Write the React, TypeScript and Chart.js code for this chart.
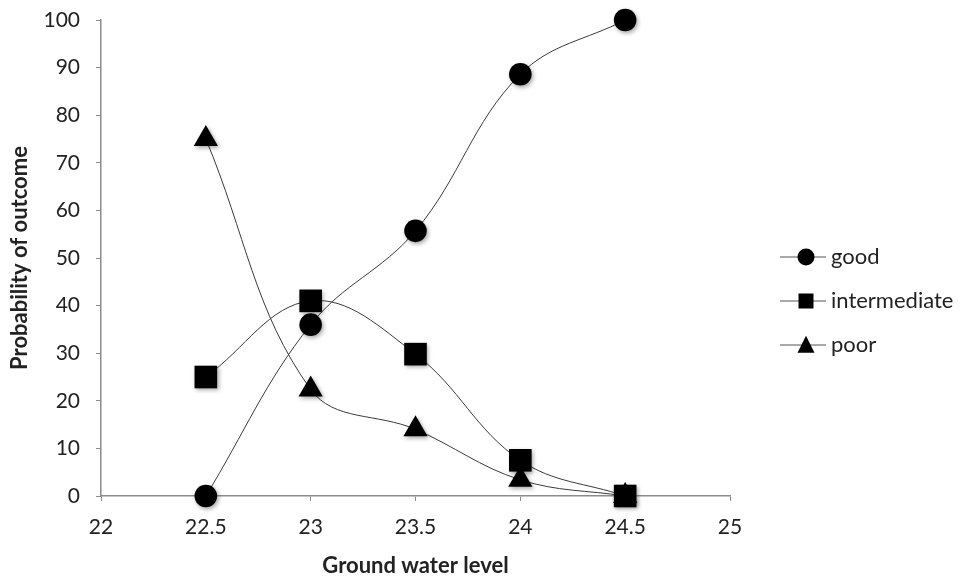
import React, { useEffect, useRef } from "react";
import { Chart, registerables } from "chart.js";

Chart.register(...registerables);

const groundWaterLevels = [22.5, 23, 23.5, 24, 24.5];
const good = [0, 36, 55.7, 88.6, 100];
const intermediate = [25, 41, 29.8, 7.5, 0];
const poor = [75, 22.4, 14, 3.4, 0];
const seriesNames = ["good", "intermediate", "poor"];
const xTickMin = 22;
const xTickMax = 25;
const yTickMax = 100;

const FONT = "Lato, 'Open Sans', sans-serif";
const LINE_COLOR = "#3a3a3a";
const AXIS_COLOR = "#8c8c8c";

function drawMarker(ctx: CanvasRenderingContext2D, style: string, x: number, y: number, s: number) {
  ctx.beginPath();
  if (style === "circle") {
    ctx.arc(x, y, s / 2, 0, Math.PI * 2);
  } else if (style === "rect") {
    ctx.rect(x - s / 2, y - s / 2, s, s);
  } else {
    ctx.moveTo(x, y - s * 0.55);
    ctx.lineTo(x + s / 2, y + s * 0.45);
    ctx.lineTo(x - s / 2, y + s * 0.45);
    ctx.closePath();
  }
  ctx.fill();
}

const legendPlugin = {
  id: "customLegend",
  afterDraw(chart: any) {
    const ctx = chart.ctx as CanvasRenderingContext2D;
    const styles = ["circle", "rect", "triangle"];
    const sizes = [17, 15, 17];
    const ys = [257, 301, 345];
    ctx.save();
    for (let i = 0; i < seriesNames.length; i++) {
      const y = ys[i];
      ctx.strokeStyle = "#555";
      ctx.lineWidth = 1;
      ctx.beginPath();
      ctx.moveTo(780, y);
      ctx.lineTo(826, y);
      ctx.stroke();
      ctx.fillStyle = "#000";
      drawMarker(ctx, styles[i], 806, y, sizes[i]);
      ctx.fillStyle = "#222";
      ctx.font = `22px ${FONT}`;
      ctx.textBaseline = "middle";
      ctx.textAlign = "left";
      ctx.fillText(seriesNames[i], 831, y);
    }
    ctx.restore();
  },
};

const shadowPlugin = {
  id: "markerShadow",
  beforeDatasetDraw(chart: any, args: any) {
    const ds = chart.data.datasets[args.index];
    if (ds.showLine === false) {
      const ctx = chart.ctx;
      ctx.save();
      ctx.shadowColor = "rgba(0,0,0,0.35)";
      ctx.shadowBlur = 4;
      ctx.shadowOffsetX = 1.5;
      ctx.shadowOffsetY = 2;
    }
  },
  afterDatasetDraw(chart: any, args: any) {
    const ds = chart.data.datasets[args.index];
    if (ds.showLine === false) {
      chart.ctx.restore();
    }
  },
};

export default function App() {
  const ref = useRef<HTMLCanvasElement>(null);
  useEffect(() => {
    if (!ref.current) return;
    const toPts = (arr: number[]) => groundWaterLevels.map((x, i) => ({ x, y: arr[i] }));
    const series = [good, intermediate, poor];
    const styles = ["circle", "rect", "triangle"];
    const radii = [11.3, 16, 14];
    const lineSets = series.map((s, i) => ({
      label: seriesNames[i] + "-line",
      data: toPts(s),
      borderColor: LINE_COLOR,
      borderWidth: 1,
      pointRadius: 0,
      tension: 0.38,
      fill: false,
      clip: false,
      order: 10 + i,
    }));
    const pointSets = series.map((s, i) => ({
      label: seriesNames[i],
      data: toPts(s),
      showLine: false,
      pointStyle: styles[i],
      pointRadius: radii[i],
      pointBackgroundColor: "#000",
      pointBorderColor: "#000",
      pointBorderWidth: 0,
      clip: false,
      order: 2 - i,
    }));
    const tickFont = { family: FONT, size: 21 };
    const titleFont = { family: FONT, size: 22, weight: "bold" };
    const chart = new Chart(ref.current, {
      type: "line",
      data: { datasets: [...lineSets, ...pointSets] as any },
      options: {
        animation: false,
        responsive: false,
        layout: { padding: { left: 0, right: 235, top: 20, bottom: 0 } },
        plugins: { legend: { display: false }, tooltip: { enabled: false } },
        scales: {
          x: {
            type: "linear",
            min: xTickMin,
            max: xTickMax,
            ticks: {
              stepSize: 0.5,
              color: "#222",
              font: tickFont,
              padding: 14,
              callback: (v: any) => String(Number(v)),
            },
            grid: { drawOnChartArea: false, drawTicks: true, tickLength: 5, color: AXIS_COLOR },
            border: { color: AXIS_COLOR, width: 1.5 },
            title: {
              display: true,
              text: "Ground water level",
              color: "#222",
              font: titleFont,
              padding: { top: 10, bottom: 0 },
            },
            afterFit(scale: any) {
              scale.height = 83;
              scale.paddingLeft = 0;
              scale.paddingRight = 0;
            },
          },
          y: {
            type: "linear",
            min: 0,
            max: yTickMax,
            ticks: { stepSize: 10, color: "#222", font: tickFont, padding: 16 },
            grid: { drawOnChartArea: false, drawTicks: true, tickLength: 5, color: AXIS_COLOR },
            border: { color: AXIS_COLOR, width: 1.5 },
            title: {
              display: true,
              text: "Probability of outcome",
              color: "#222",
              font: titleFont,
              padding: { top: 7, bottom: 0 },
            },
            afterFit(scale: any) {
              scale.width = 101;
              scale.paddingTop = 0;
              scale.paddingBottom = 0;
            },
          },
        },
      },
      plugins: [legendPlugin, shadowPlugin],
    } as any);
    return () => chart.destroy();
  }, []);
  return (
    <div style={{ position: "fixed", left: 0, top: 0, width: 965, height: 579, background: "#fff" }}>
      <canvas ref={ref} width={965} height={579} />
    </div>
  );
}
